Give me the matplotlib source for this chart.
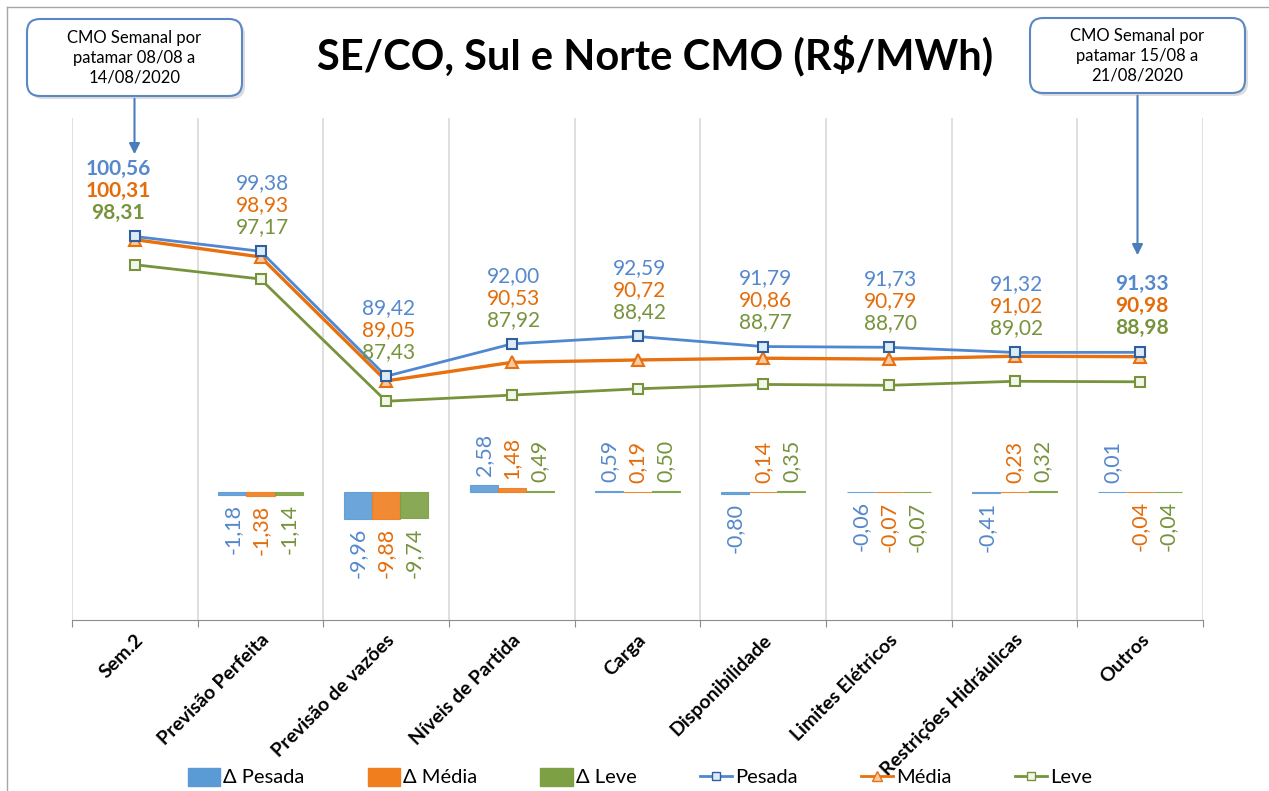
import matplotlib
matplotlib.use('Agg')
import matplotlib.pyplot as plt
from matplotlib.patches import FancyBboxPatch, FancyArrowPatch, Patch
from matplotlib.lines import Line2D
import numpy as np

plt.rcParams['font.family'] = ['Lato', 'DejaVu Sans']

categorias = ['Sem.2', 'Previsão Perfeita', 'Previsão de vazões', 'Níveis de Partida',
              'Carga', 'Disponibilidade', 'Limites Elétricos', 'Restrições Hidráulicas', 'Outros']
pesada = [100.56, 99.38, 89.42, 92.00, 92.59, 91.79, 91.73, 91.32, 91.33]
media = [100.31, 98.93, 89.05, 90.53, 90.72, 90.86, 90.79, 91.02, 90.98]
leve = [98.31, 97.17, 87.43, 87.92, 88.42, 88.77, 88.70, 89.02, 88.98]
d_pesada = [np.nan, -1.18, -9.96, 2.58, 0.59, -0.80, -0.06, -0.41, 0.01]
d_media = [np.nan, -1.38, -9.88, 1.48, 0.19, 0.14, -0.07, 0.23, -0.04]
d_leve = [np.nan, -1.14, -9.74, 0.49, 0.50, 0.35, -0.07, 0.32, -0.04]

# cores
bar_cores = ['#5B9BD5', '#F07D1E', '#7CA043']
lin_cores = ['#4F87D0', '#E8700F', '#77933C']
txt_cores = ['#5588CC', '#E46C0A', '#77933C']

W, H = 1269, 791
fig = plt.figure(figsize=(W / 100, H / 100), dpi=100)
ax = fig.add_axes([72 / W, 1 - 620 / H, (1203 - 72) / W, (620 - 118) / H])
ax2 = ax.twinx()

x = np.arange(len(categorias))
w = 0.223

def fmt(v):
    return f"{v:.2f}".replace('.', ',')

# barras (delta)
for k, (serie, cor) in enumerate(zip([d_pesada, d_media, d_leve], bar_cores)):
    xs = x + (k - 1) * w
    ax.bar(xs[1:], serie[1:], w, facecolor=cor, edgecolor=cor, linewidth=0.8, alpha=0.9, zorder=2)
    for xi, v in zip(xs, serie):
        if np.isnan(v):
            continue
        ax.text(xi, v, fmt(v), rotation=90, ha='center', va='bottom' if v >= 0 else 'top',
                fontsize=15.5, color=txt_cores[k], zorder=5,
                transform=ax.transData + matplotlib.transforms.ScaledTranslation(
                    0, (6.5 if v >= 0 else -6.5) / 72, fig.dpi_scale_trans))

ax.set_ylim(-48, 140.6)
ax.set_xlim(-0.5, len(categorias) - 0.5)
ax.set_yticks([])
for s in ['top', 'left', 'right']:
    ax.spines[s].set_visible(False)
ax.spines['bottom'].set_color('#8C8C8C')
ax.set_xticks(np.arange(-0.5, len(categorias), 1))
ax.tick_params(axis='x', which='major', length=5, color='#8C8C8C', labelbottom=False)
ax.set_xticks(x, minor=True)
ax.set_xticklabels(categorias, minor=True, rotation=45, ha='right', rotation_mode='anchor',
                   fontweight='bold', fontsize=14)
ax.tick_params(axis='x', which='minor', length=0, pad=8)
ax.grid(axis='x', which='major', color='#D9D9D9', lw=1.2, zorder=0)
ax.set_axisbelow(True)

# linhas (CMO)
ax2.plot(x, leve, color=lin_cores[2], lw=2, marker='s', ms=7, mfc='#F2F7EC', mec=lin_cores[2], mew=1.5)
ax2.plot(x, media, color=lin_cores[1], lw=2.4, marker='^', ms=8, mfc='#F9C9A0', mec=lin_cores[1], mew=1.5)
ax2.plot(x, pesada, color=lin_cores[0], lw=2, marker='s', ms=7, mfc='#DDEBF7', mec='#2F5F9E', mew=1.5)
ax2.set_ylim(70, 110)
ax2.set_yticks([])
for s in ax2.spines.values():
    s.set_visible(False)

offs = [68, 46, 24]
for i in range(len(categorias)):
    dx = -17 if i == 0 else 2
    peso = 'bold' if i in (0, len(categorias) - 1) else 'normal'
    for k, serie in enumerate([pesada, media, leve]):
        ax2.annotate(fmt(serie[i]), (x[i], pesada[i]), xytext=(dx, offs[k]), textcoords='offset pixels',
                     ha='center', va='center', fontsize=15, color=txt_cores[k], fontweight=peso)

# titulo
fig.text(655 / W, 1 - 55 / H, 'SE/CO, Sul e Norte CMO (R$/MWh)', ha='center', va='center',
         fontsize=30, fontweight='bold')

# caixas de texto
def callout(x0, y0, x1, y1, texto, y_seta):
    t = fig.dpi_scale_trans
    sh = FancyBboxPatch((x0 / 100 + 0.03, (H - y1) / 100 - 0.03), (x1 - x0) / 100, (y1 - y0) / 100,
                        boxstyle='round,pad=0,rounding_size=0.13', transform=t,
                        fc='#BBBBBB', ec='none', alpha=0.5)
    fig.add_artist(sh)
    bx = FancyBboxPatch((x0 / 100, (H - y1) / 100), (x1 - x0) / 100, (y1 - y0) / 100,
                        boxstyle='round,pad=0,rounding_size=0.13', transform=t,
                        fc='white', ec='#5B87C5', lw=1.5)
    fig.add_artist(bx)
    cx = (x0 + x1) / 2
    fig.text(cx / W, 1 - (y0 + y1) / 2 / H, texto, ha='center', va='center', fontsize=12,
             linespacing=1.3)
    seta = FancyArrowPatch((cx / 100, (H - y1) / 100), (cx / 100, (H - y_seta) / 100), transform=t,
                           arrowstyle='-|>', mutation_scale=16, color='#4A7EBB', lw=1.5)
    fig.add_artist(seta)

callout(27, 19, 242, 96, 'CMO Semanal por\npatamar 08/08 a\n14/08/2020', 157)
callout(1030, 18, 1245, 93, 'CMO Semanal por\npatamar 15/08 a\n21/08/2020', 258)

# moldura
fig.add_artist(Line2D([7 / W, 1], [1 - 7 / H] * 2, transform=fig.transFigure, color='#A6A6A6', lw=1))
fig.add_artist(Line2D([7 / W] * 2, [0, 1 - 7 / H], transform=fig.transFigure, color='#A6A6A6', lw=1))

# legenda
handles = [Patch(color=bar_cores[0]), Patch(color=bar_cores[1]), Patch(color=bar_cores[2]),
           Line2D([], [], color=lin_cores[0], lw=2, marker='s', ms=6, mfc='#DDEBF7', mec='#2F5F9E'),
           Line2D([], [], color=lin_cores[1], lw=2, marker='^', ms=7, mfc='#F9C9A0', mec=lin_cores[1]),
           Line2D([], [], color=lin_cores[2], lw=2, marker='s', ms=6, mfc='#F2F7EC', mec=lin_cores[2])]
labels = ['Δ Pesada', 'Δ Média', 'Δ Leve', 'Pesada', 'Média', 'Leve']
fig.legend(handles, labels, loc='center', bbox_to_anchor=(640 / W, 1 - 777 / H), ncol=6, frameon=False,
           fontsize=14.5, handlelength=1.6, handleheight=1.0, handletextpad=0.15, columnspacing=3.15)

fig.savefig('out.png', dpi=100)
